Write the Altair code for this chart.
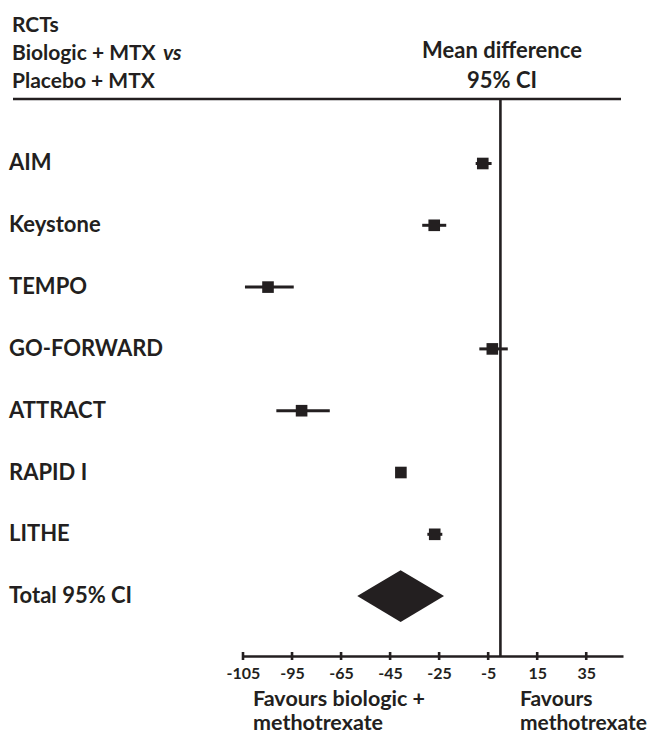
import altair as alt
import pandas as pd

# ---- data ----
studies = ["AIM", "Keystone", "TEMPO", "GO-FORWARD", "ATTRACT", "RAPID I", "LITHE"]
estimates = [-7.2, -27.0, -94.8, -3.3, -81.1, -40.6, -26.8]
ci_low = [-10.1, -31.9, -104.2, -8.6, -91.4, -41.5, -29.8]
ci_high = [-3.6, -22.1, -84.3, 3.0, -69.6, -39.7, -23.7]

total_label = "Total 95% CI"
total_est = -40.7
total_low = -58.4
total_high = -23.0

tick_values = [-105, -85, -65, -45, -25, -5, 15, 35]
tick_labels = ["-105", "-95", "-65", "-45", "-25", "-5", "15", "35"]

# ---- tables ----
rows = pd.DataFrame({
    "study": studies,
    "row": list(range(len(studies))),
    "est": estimates,
    "lo": ci_low,
    "hi": ci_high,
})
total_row = len(studies)
labels = pd.DataFrame({
    "study": studies + [total_label],
    "row": list(range(len(studies) + 1)),
})
HALF = 0.42  # half height of the summary diamond, in rows
diamond = pd.DataFrame({
    "x": [total_low, total_est, total_high],
    "y": [total_row, total_row - HALF, total_row],
    "y2": [total_row, total_row + HALF, total_row],
})
ticks = pd.DataFrame({"v": tick_values})
one = pd.DataFrame({"a": [0]})

INK = "#231f20"
FONT = "Lato"

label_expr = ""
for v, l in zip(tick_values, tick_labels):
    label_expr += f"datum.value == {v} ? '{l}' : "
label_expr += "datum.label"

xscale = alt.Scale(domain=[-105, 50], nice=False, zero=False)
yscale = alt.Scale(domain=[-2.516, 7.969], nice=False, zero=False, reverse=True)

xaxis = alt.Axis(
    values=tick_values, labelExpr=label_expr, title=None, grid=False,
    ticks=False, domain=True, domainColor=INK, domainWidth=2.6,
    labelFont=FONT, labelFontSize=16, labelFontWeight="bold", labelColor=INK,
    labelPadding=9, labelFlush=False, labelOverlap=False,
)

ci = alt.Chart(rows).mark_rule(color=INK, strokeWidth=3).encode(
    x=alt.X("lo:Q", scale=xscale, axis=xaxis),
    x2="hi:Q",
    y=alt.Y("row:Q", scale=yscale, axis=None),
)
sq = alt.Chart(rows).mark_square(color=INK, size=135, opacity=1).encode(
    x="est:Q", y="row:Q",
)
dia = alt.Chart(diamond).mark_area(color=INK, orient="vertical", opacity=1).encode(
    x="x:Q", y="y:Q", y2="y2:Q",
)
zero_line = alt.Chart(one).mark_rule(color=INK, strokeWidth=2.6).encode(
    x=alt.datum(0), y=alt.value(91), y2=alt.value(648),
)
header_line = alt.Chart(one).mark_rule(color=INK, strokeWidth=2.6).encode(
    x=alt.value(-230), x2=alt.value(378), y=alt.value(91),
)
axis_ticks = alt.Chart(ticks).mark_tick(color=INK, thickness=2.6, size=8, opacity=1).encode(
    x="v:Q", y=alt.value(648),
)
row_text = alt.Chart(labels).mark_text(
    font=FONT, fontSize=22, fontWeight="bold", color=INK, align="left", baseline="middle",
).encode(x=alt.value(-234), y="row:Q", text="study:N")


def txt(s, x, y, size=21, align="left", style="normal"):
    return alt.Chart(one).mark_text(
        font=FONT, fontSize=size, fontWeight="bold", color=INK, align=align,
        baseline="alphabetic", fontStyle=style, text=s,
    ).encode(x=alt.value(x), y=alt.value(y))


headers = [
    txt("RCTs", -231, 24),
    txt("Biologic + MTX", -231, 52),
    txt("vs", -80, 52, style="italic"),
    txt("Placebo + MTX", -231, 80),
    txt("Mean difference", 259, 50, size=22, align="center"),
    txt("95% CI", 259, 80, size=22, align="center"),
    txt("Favours biologic +", 10, 698, size=21.5),
    txt("methotrexate", 10, 722, size=21.5),
    txt("Favours", 277, 698, size=21),
    txt("methotrexate", 277, 722, size=21),
]

chart = alt.layer(
    header_line, zero_line, ci, sq, dia, axis_ticks, row_text, *headers
).properties(
    width=380, height=648,
    autosize=alt.AutoSizeParams(type="none"),
    padding={"left": 235, "top": 0, "right": 28, "bottom": 80},
).configure_view(stroke=None)

chart.save("out.html", embed_options={"renderer": "svg", "actions": False})
